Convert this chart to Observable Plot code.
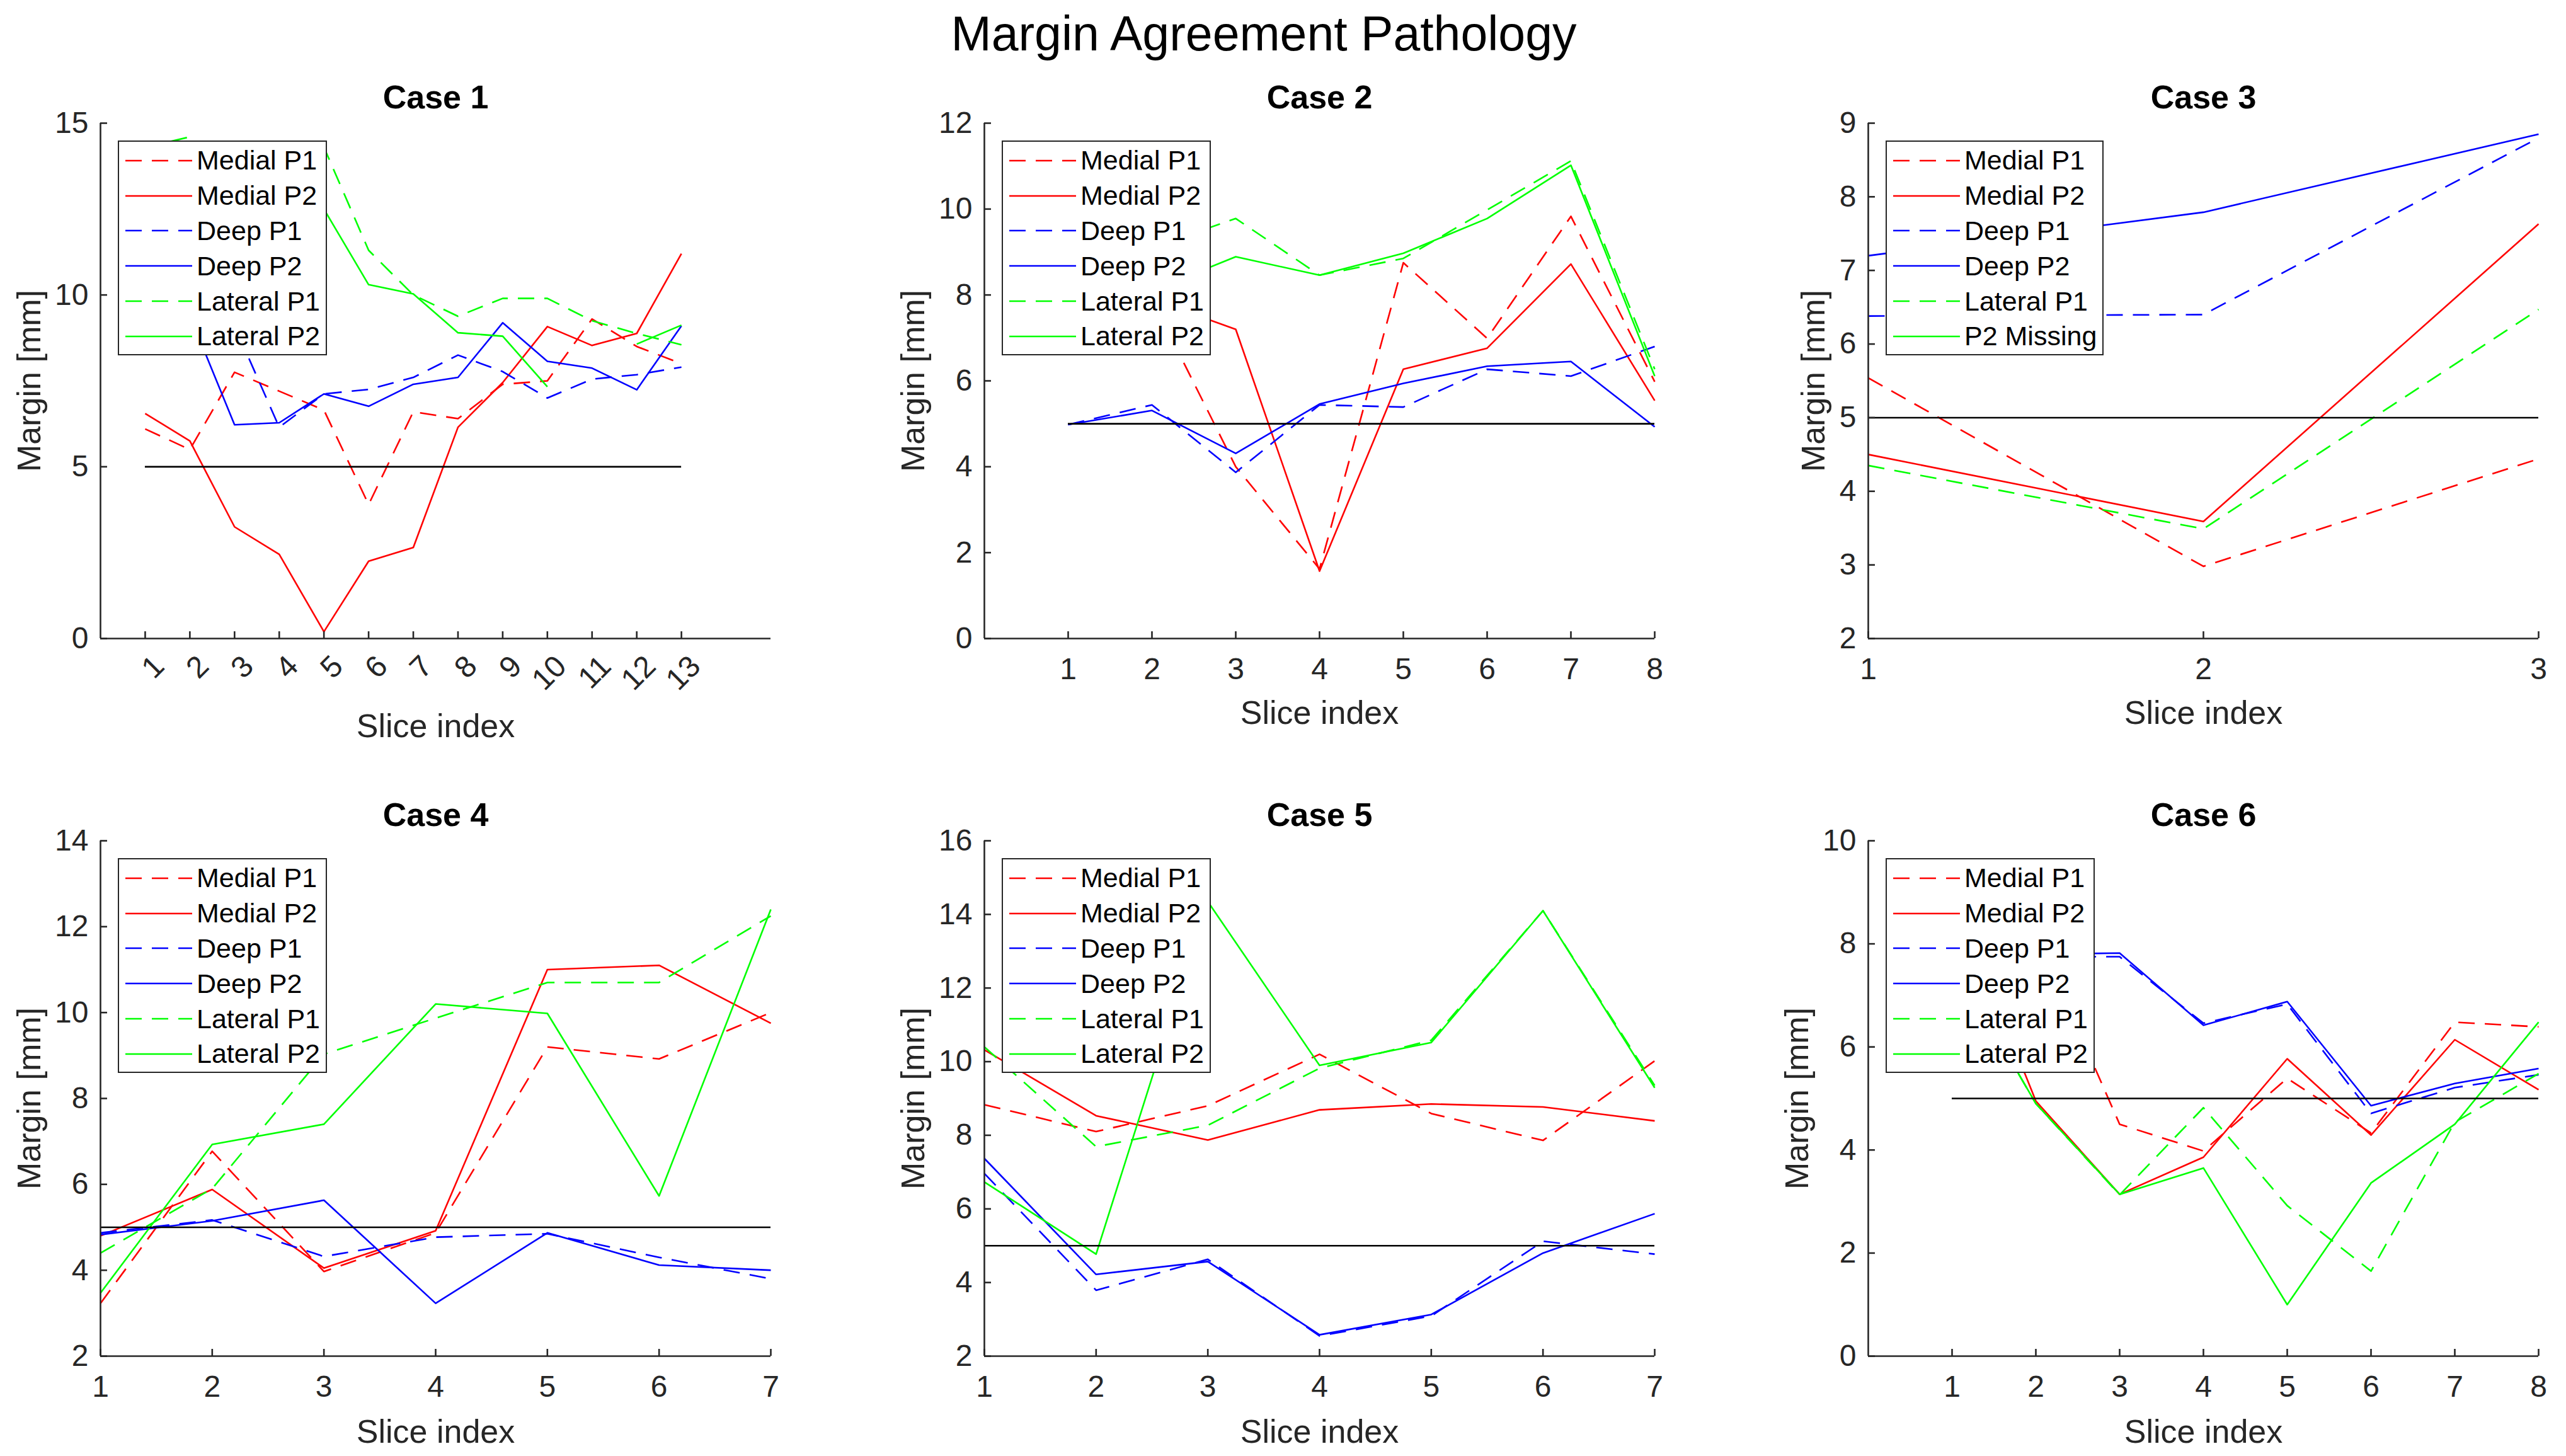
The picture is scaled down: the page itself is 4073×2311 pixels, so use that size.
<!DOCTYPE html>
<html>
<head>
<meta charset="utf-8">
<script src="https://cdn.jsdelivr.net/npm/d3@7"></script>
<script src="https://cdn.jsdelivr.net/npm/@observablehq/plot@0.6"></script>
<style>
  html, body { margin: 0; padding: 0; background: #fff; }
  #page { position: relative; width: 4073px; height: 2311px; overflow: hidden; background: #fff;
          font-family: "Liberation Sans", Arial, sans-serif; color: #262626; }
  .abs { position: absolute; }
</style>
</head>
<body>
<div id="page"></div>
<script>
// ---------------- DATA ----------------
const mainTitle = "Margin Agreement Pathology";
const caseTitles = ["Case 1", "Case 2", "Case 3", "Case 4", "Case 5", "Case 6"];
const seriesNames = ["Medial P1", "Medial P2", "Deep P1", "Deep P2", "Lateral P1", "Lateral P2"];
const case3SeriesNames = ["Medial P1", "Medial P2", "Deep P1", "Deep P2", "Lateral P1", "P2 Missing"];
const xAxisLabel = "Slice index";
const yAxisLabel = "Margin [mm]";
const thresholdMargin = 5;

// Case 1
const case1Slices = [1, 2, 3, 4, 5, 6, 7, 8, 9, 10, 11, 12, 13];
const case1MedialP1 = [6.1, 5.5, 7.75, 7.2, 6.65, 3.9, 6.6, 6.4, 7.4, 7.5, 9.3, 8.5, 8.0];
const case1MedialP2 = [6.55, 5.75, 3.25, 2.45, 0.2, 2.25, 2.65, 6.15, 7.45, 9.08, 8.53, 8.88, 11.2];
const case1DeepP1 = [9.5, 8.8, 9.1, 6.15, 7.12, 7.25, 7.6, 8.25, 7.77, 7.0, 7.55, 7.68, 7.9];
const case1DeepP2 = [8.7, 9.4, 6.22, 6.28, 7.12, 6.76, 7.4, 7.6, 9.19, 8.07, 7.87, 7.24, 9.1];
const case1LateralP1 = [14.3, 14.6, 13.0, 12.5, 14.3, 11.3, 10.0, 9.38, 9.9, 9.9, 9.25, 8.88, 8.55];
const case1LateralP2 = [12.0, 12.5, 11.0, 11.5, 12.5, 10.3, 10.03, 8.9, 8.8, 7.33, null, 8.57, 9.12];
const case1XDomain = [0, 15];
const case1YDomain = [0, 15];
const case1XTicks = [1, 2, 3, 4, 5, 6, 7, 8, 9, 10, 11, 12, 13];
const case1YTicks = [0, 5, 10, 15];

// Case 2
const case2Slices = [1, 2, 3, 4, 5, 6, 7, 8];
const case2MedialP1 = [8.5, 7.9, 4.0, 1.62, 8.75, 6.99, 9.83, 5.98];
const case2MedialP2 = [9.0, 7.9, 7.2, 1.57, 6.27, 6.76, 8.72, 5.54];
const case2DeepP1 = [4.98, 5.44, 3.87, 5.44, 5.39, 6.27, 6.11, 6.8];
const case2DeepP2 = [4.98, 5.31, 4.31, 5.46, 5.94, 6.34, 6.45, 4.93];
const case2LateralP1 = [10.5, 9.1, 9.78, 8.46, 8.85, 9.98, 11.12, 6.27];
const case2LateralP2 = [10.0, 8.1, 8.89, 8.46, 8.97, 9.78, 11.02, 6.11];
const case2XDomain = [0, 8];
const case2YDomain = [0, 12];
const case2XTicks = [1, 2, 3, 4, 5, 6, 7, 8];
const case2YTicks = [0, 2, 4, 6, 8, 10, 12];

// Case 3 (P2 lateral missing)
const case3Slices = [1, 2, 3];
const case3MedialP1 = [5.54, 2.98, 4.44];
const case3MedialP2 = [4.5, 3.59, 7.63];
const case3DeepP1 = [6.38, 6.4, 8.8];
const case3DeepP2 = [7.2, 7.79, 8.85];
const case3LateralP1 = [4.35, 3.49, 6.47];
const case3LateralP2 = [null, null, null];
const case3XDomain = [1, 3];
const case3YDomain = [2, 9];
const case3XTicks = [1, 2, 3];
const case3YTicks = [2, 3, 4, 5, 6, 7, 8, 9];

// Case 4
const case4Slices = [1, 2, 3, 4, 5, 6, 7];
const case4MedialP1 = [3.23, 6.77, 3.97, 4.87, 9.2, 8.92, 10.0];
const case4MedialP2 = [4.8, 5.88, 4.05, 4.92, 11.0, 11.1, 9.75];
const case4DeepP1 = [4.87, 5.17, 4.32, 4.77, 4.85, 4.3, 3.8];
const case4DeepP2 = [4.83, 5.15, 5.63, 3.23, 4.87, 4.12, 4.0];
const case4LateralP1 = [4.4, 5.9, 9.03, 9.87, 10.7, 10.7, 12.25];
const case4LateralP2 = [3.47, 6.93, 7.4, 10.2, 9.98, 5.73, 12.4];
const case4XDomain = [1, 7];
const case4YDomain = [2, 14];
const case4XTicks = [1, 2, 3, 4, 5, 6, 7];
const case4YTicks = [2, 4, 6, 8, 10, 12, 14];

// Case 5
const case5Slices = [1, 2, 3, 4, 5, 6, 7];
const case5MedialP1 = [8.83, 8.1, 8.8, 10.2, 8.59, 7.86, 10.02];
const case5MedialP2 = [10.32, 8.53, 7.87, 8.69, 8.85, 8.77, 8.39];
const case5DeepP1 = [6.96, 3.79, 4.63, 2.55, 3.09, 5.12, 4.77];
const case5DeepP2 = [7.37, 4.22, 4.57, 2.58, 3.13, 4.8, 5.87];
const case5LateralP1 = [10.4, 7.69, 8.27, 9.82, 10.58, 14.1, 9.35];
const case5LateralP2 = [6.73, 4.77, 14.35, 9.9, 10.52, 14.1, 9.29];
const case5XDomain = [1, 7];
const case5YDomain = [2, 16];
const case5XTicks = [1, 2, 3, 4, 5, 6, 7];
const case5YTicks = [2, 4, 6, 8, 10, 12, 14, 16];

// Case 6
const case6Slices = [1, 2, 3, 4, 5, 6, 7, 8];
const case6MedialP1 = [7.5, 8.2, 4.5, 3.98, 5.39, 4.33, 6.48, 6.39];
const case6MedialP2 = [9.0, 4.95, 3.14, 3.86, 5.77, 4.29, 6.14, 5.17];
const case6DeepP1 = [8.3, 7.75, 7.75, 6.46, 6.83, 4.71, 5.21, 5.46];
const case6DeepP2 = [8.5, 7.8, 7.82, 6.42, 6.88, 4.86, 5.29, 5.58];
const case6LateralP1 = [7.7, 4.9, 3.13, 4.82, 2.92, 1.65, 4.54, 5.48];
const case6LateralP2 = [7.7, 4.9, 3.14, 3.65, 1.0, 3.36, 4.5, 6.48];
const case6XDomain = [0, 8];
const case6YDomain = [0, 10];
const case6XTicks = [1, 2, 3, 4, 5, 6, 7, 8];
const case6YTicks = [0, 2, 4, 6, 8, 10];

// ---------------- STYLE / LAYOUT ----------------
const seriesColors = ["#ff0000", "#ff0000", "#0000ff", "#0000ff", "#00ff00", "#00ff00"];
const seriesDashed = [true, false, true, false, true, false];
const DASH = "26,16";
const LW = 2.6;
const AXIS = "#262626";
const FONT = '"Liberation Sans", Arial, Helvetica, sans-serif';
const FW = 1064, FH = 818;               // frame size of each axes
const colLeft = [159, 1562, 2965];
const rowTop = [195, 1334];

const cases = [
  {title: caseTitles[0], slices: case1Slices, series: [case1MedialP1, case1MedialP2, case1DeepP1, case1DeepP2, case1LateralP1, case1LateralP2],
   xDomain: case1XDomain, yDomain: case1YDomain, xTicks: case1XTicks, yTicks: case1YTicks, names: seriesNames,
   rotateX: true, yLabelOffset: 112, xLabelOffset: 140},
  {title: caseTitles[1], slices: case2Slices, series: [case2MedialP1, case2MedialP2, case2DeepP1, case2DeepP2, case2LateralP1, case2LateralP2],
   xDomain: case2XDomain, yDomain: case2YDomain, xTicks: case2XTicks, yTicks: case2YTicks, names: seriesNames,
   rotateX: false, yLabelOffset: 112, xLabelOffset: 119},
  {title: caseTitles[2], slices: case3Slices, series: [case3MedialP1, case3MedialP2, case3DeepP1, case3DeepP2, case3LateralP1, case3LateralP2],
   xDomain: case3XDomain, yDomain: case3YDomain, xTicks: case3XTicks, yTicks: case3YTicks, names: case3SeriesNames,
   rotateX: false, yLabelOffset: 86, xLabelOffset: 119},
  {title: caseTitles[3], slices: case4Slices, series: [case4MedialP1, case4MedialP2, case4DeepP1, case4DeepP2, case4LateralP1, case4LateralP2],
   xDomain: case4XDomain, yDomain: case4YDomain, xTicks: case4XTicks, yTicks: case4YTicks, names: seriesNames,
   rotateX: false, yLabelOffset: 112, xLabelOffset: 121},
  {title: caseTitles[4], slices: case5Slices, series: [case5MedialP1, case5MedialP2, case5DeepP1, case5DeepP2, case5LateralP1, case5LateralP2],
   xDomain: case5XDomain, yDomain: case5YDomain, xTicks: case5XTicks, yTicks: case5YTicks, names: seriesNames,
   rotateX: false, yLabelOffset: 112, xLabelOffset: 121},
  {title: caseTitles[5], slices: case6Slices, series: [case6MedialP1, case6MedialP2, case6DeepP1, case6DeepP2, case6LateralP1, case6LateralP2],
   xDomain: case6XDomain, yDomain: case6YDomain, xTicks: case6XTicks, yTicks: case6YTicks, names: seriesNames,
   rotateX: false, yLabelOffset: 112, xLabelOffset: 121}
];

const page = document.getElementById("page");

// main title
const t = document.createElement("div");
t.className = "abs";
t.style.cssText = `left:0;width:4012px;top:15px;text-align:center;font-size:77px;line-height:77px;color:#000;font-family:${FONT};`;
t.textContent = mainTitle;
page.appendChild(t);

function drawPanel(c, left, top) {
  const mL = 150, mR = 40, mT = 90, mB = 170;
  const x0 = c.xDomain[0], y0 = c.yDomain[0];
  const marks = [];
  c.series.forEach((vals, si) => {
    if (vals.every(v => v == null)) return;
    const data = vals.map((v, i) => ({slice: c.slices[i], value: v}));
    marks.push(Plot.line(data, {
      x: "slice", y: "value", stroke: seriesColors[si], strokeWidth: LW,
      strokeDasharray: seriesDashed[si] ? DASH : undefined,
      strokeLinecap: "butt", strokeLinejoin: "round"
    }));
  });
  // threshold reference line across the slice range
  marks.push(Plot.ruleY([{y: thresholdMargin, x1: c.slices[0], x2: c.slices[c.slices.length - 1]}],
    {y: "y", x1: "x1", x2: "x2", stroke: "#000", strokeWidth: LW}));
  // axis lines (MATLAB box off)
  marks.push(Plot.ruleX([x0], {x: d => d, stroke: AXIS, strokeWidth: LW}));
  marks.push(Plot.ruleY([y0], {y: d => d, stroke: AXIS, strokeWidth: LW}));
  // inward tick marks
  marks.push(Plot.tickX(c.xTicks, {x: d => d, insetTop: FH - 11, stroke: AXIS, strokeWidth: LW}));
  marks.push(Plot.tickY(c.yTicks, {y: d => d, insetRight: FW - 11, stroke: AXIS, strokeWidth: LW}));
  if (c.rotateX) {
    marks.push(Plot.text(c.xTicks, {
      x: d => d, y: () => y0, text: d => String(d), rotate: -45,
      textAnchor: "end", lineAnchor: "middle", dx: 22, dy: 36, fontSize: 48, fill: AXIS
    }));
  }
  // titles and axis labels
  marks.push(Plot.text([c.title], {frameAnchor: "top", dy: -24, lineAnchor: "bottom", fontWeight: "bold", fontSize: 52, fill: "#000"}));
  marks.push(Plot.text([yAxisLabel], {frameAnchor: "left", dx: -c.yLabelOffset, rotate: -90, textAnchor: "middle", lineAnchor: "middle", fontSize: 52, fill: AXIS}));
  marks.push(Plot.text([xAxisLabel], {frameAnchor: "bottom", dy: c.xLabelOffset, lineAnchor: "middle", fontSize: 52, fill: AXIS}));

  const svg = Plot.plot({
    width: mL + FW + mR, height: mT + FH + mB,
    marginLeft: mL, marginRight: mR, marginTop: mT, marginBottom: mB,
    x: {domain: c.xDomain, ticks: c.xTicks, tickSize: 0, tickPadding: 30, tickFormat: d => String(d), label: null,
        axis: c.rotateX ? null : "bottom"},
    y: {domain: c.yDomain, ticks: c.yTicks, tickSize: 0, tickPadding: 19, tickFormat: d => String(d), label: null},
    style: {fontSize: "48px", fontFamily: FONT, color: AXIS, background: "transparent", overflow: "visible"},
    marks
  });
  svg.style.position = "absolute";
  svg.style.left = (left - mL) + "px";
  svg.style.top = (top - mT) + "px";
  svg.style.maxWidth = "none";
  page.appendChild(svg);

  // legend (northwest, opaque box)
  const lg = document.createElement("div");
  lg.className = "abs";
  lg.style.cssText = `left:${left + 28}px;top:${top + 28}px;background:#fff;border:2.6px solid ${AXIS};` +
    `padding:2px 9px 0 10px;font-family:${FONT};font-size:43px;color:#000;white-space:nowrap;`;
  c.names.forEach((name, si) => {
    const row = document.createElement("div");
    row.style.cssText = "display:flex;align-items:center;height:55.8px;";
    const s = document.createElementNS("http://www.w3.org/2000/svg", "svg");
    s.setAttribute("width", "106"); s.setAttribute("height", "10");
    const ln = document.createElementNS("http://www.w3.org/2000/svg", "line");
    ln.setAttribute("x1", "0"); ln.setAttribute("x2", "106");
    ln.setAttribute("y1", "5"); ln.setAttribute("y2", "5");
    ln.setAttribute("stroke", seriesColors[si]); ln.setAttribute("stroke-width", LW);
    if (seriesDashed[si]) ln.setAttribute("stroke-dasharray", DASH);
    s.appendChild(ln);
    const sp = document.createElement("span");
    sp.style.marginLeft = "7px";
    sp.textContent = name;
    row.appendChild(s); row.appendChild(sp);
    lg.appendChild(row);
  });
  page.appendChild(lg);
}

cases.forEach((c, i) => drawPanel(c, colLeft[i % 3], rowTop[Math.floor(i / 3)]));
</script>
</body>
</html>
